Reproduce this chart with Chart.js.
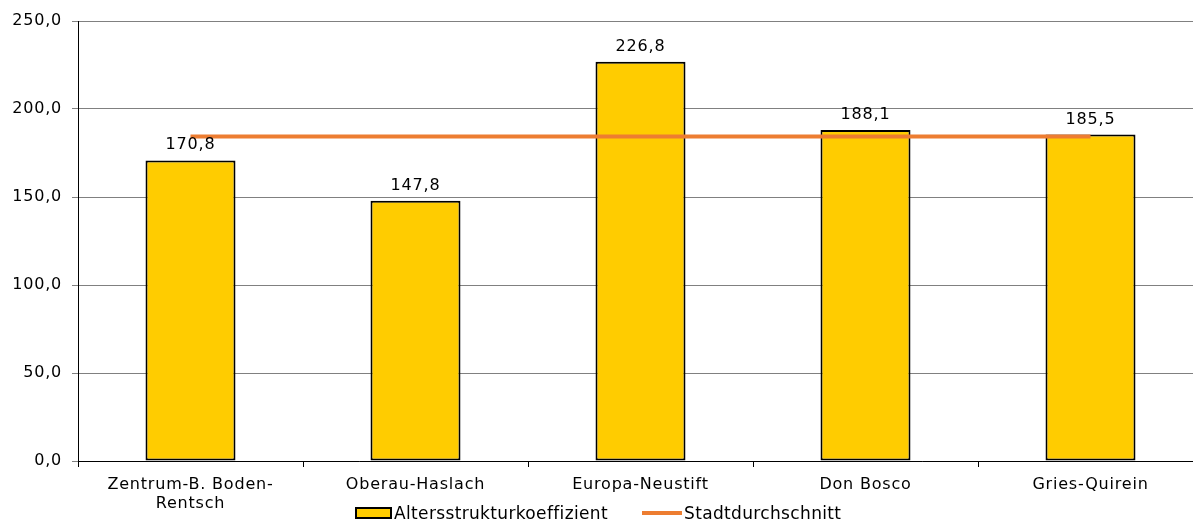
<!DOCTYPE html>
<html>
<head>
<meta charset="utf-8">
<script src="https://cdn.jsdelivr.net/npm/chart.js@4"></script>
<style>
  html, body { margin: 0; padding: 0; background: #fff; }
  #wrap { position: relative; width: 1193px; height: 524px; overflow: hidden; }
  #box { position: absolute; left: 0; top: 0; width: 1210px; height: 524px; }
  #legend { position: absolute; top: 502px; left: 355px; font: 17px "DejaVu Sans", Verdana, sans-serif; letter-spacing: 0.35px; color: #000; white-space: nowrap; }
  #legend span { display: inline-block; vertical-align: middle; }
  .lgBar { width: 33px; height: 8px; background: #FFCC00; border: 2px solid #000; margin-right: 2px; }
  .lgLine { width: 40px; height: 4px; background: #ED7D31; margin-left: 34px; margin-right: 2px; }
</style>
</head>
<body>
<div id="wrap">
  <div id="box"><canvas id="myChart" width="1210" height="524"></canvas></div>
  <div id="legend">
    <span class="lgBar"></span><span>Altersstrukturkoeffizient</span><span class="lgLine"></span><span>Stadtdurchschnitt</span>
  </div>
</div>
<script>
let labels = [['Zentrum-B. Boden-', 'Rentsch'], 'Oberau-Haslach', 'Europa-Neustift', 'Don Bosco', 'Gries-Quirein'];
let koeffizient = [170.8, 147.8, 226.8, 188.1, 185.5];
let durchschnitt = [184.4, 184.4, 184.4, 184.4, 184.4];

const fontName = '"DejaVu Sans", Verdana, sans-serif';

function fmt(v) {
  return v.toFixed(1).replace('.', ',');
}

var ctx = document.getElementById('myChart').getContext('2d');
let myChart = new Chart(ctx, {
  type: 'bar',
  data: {
    labels: labels,
    datasets: [{
      label: 'Altersstrukturkoeffizient',
      data: koeffizient,
      backgroundColor: '#FFCC00',
      borderColor: '#000',
      borderWidth: 2,
      borderSkipped: false,
      barPercentage: 1,
      categoryPercentage: 0.4,
      order: 1
    }, {
      type: 'line',
      label: 'Stadtdurchschnitt',
      data: durchschnitt,
      borderColor: '#ED7D31',
      borderWidth: 4,
      pointRadius: 0,
      fill: false,
      order: 0
    }]
  },
  options: {
    responsive: false,
    animation: false,
    layout: { padding: { left: 0, right: 7, top: 21, bottom: 0 } },
    plugins: {
      legend: { display: false },
      tooltip: { enabled: false }
    },
    scales: {
      x: {
        grid: {
          offset: true,
          drawOnChartArea: false,
          color: '#000',
          tickLength: 6
        },
        border: { color: '#000', width: 1 },
        ticks: {
          color: '#000',
          font: { family: fontName, size: 16, lineHeight: 1.2 },
          padding: 8,
          maxRotation: 0,
          autoSkip: false
        },
        afterFit: (scale) => { scale.height = 63; }
      },
      y: {
        min: 0,
        max: 250,
        grid: {
          color: '#808080',
          tickLength: 6
        },
        border: { color: '#000', width: 1 },
        ticks: {
          stepSize: 50,
          color: '#000',
          font: { family: fontName, size: 16 },
          padding: 10,
          callback: (v) => fmt(v)
        },
        afterFit: (scale) => { scale.width = 78; }
      }
    }
  },
  plugins: [{
    beforeDraw: (chart) => {
      chart.ctx.letterSpacing = '0.8px';
    },
    afterDatasetsDraw: (chart) => {
      let c = chart.ctx;
      let meta = chart.getDatasetMeta(0);
      c.save();
      c.font = '16px ' + fontName;
      c.fillStyle = '#000';
      c.textAlign = 'center';
      c.textBaseline = 'alphabetic';
      meta.data.forEach((bar, i) => {
        c.fillText(fmt(koeffizient[i]), bar.x, bar.y - 11);
      });
      c.restore();
    }
  }]
});
</script>
</body>
</html>
